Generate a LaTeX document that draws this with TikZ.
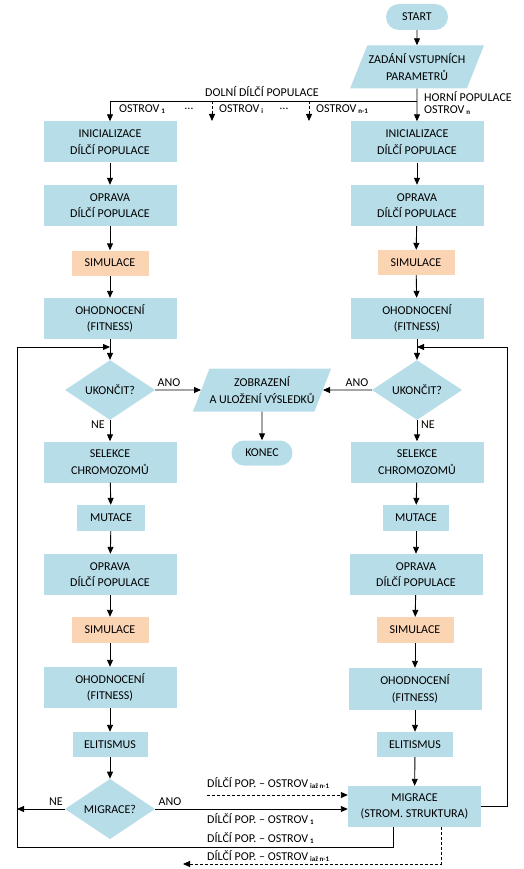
\documentclass[tikz,border=0pt]{standalone}
\usepackage{fontspec}
\setmainfont{Carlito}
\usepackage{tikz}
\usetikzlibrary{arrows.meta, shapes.geometric, shapes.misc}
\definecolor{boxblue}{HTML}{B7DDE8}
\definecolor{boxorange}{HTML}{FBD4B4}
\newcommand{\idx}[1]{\,\raisebox{-1.5pt}{\fontsize{7}{7}\selectfont\bfseries #1}}

\begin{document}
\begin{tikzpicture}[x=1pt, y=-1pt,
  every node/.style={font=\fontsize{12}{16.5}\selectfont},
  proc/.style={rectangle, fill=boxblue, align=center, inner sep=0pt,
               minimum width=133pt, minimum height=41pt},
  smallproc/.style={proc, minimum width=#1, minimum height=26pt},
  sim/.style={proc, fill=boxorange, minimum width=77pt, minimum height=25pt},
  term/.style={rounded rectangle, fill=boxblue, inner sep=0pt,
               minimum width=62pt, minimum height=26pt},
  io/.style={trapezium, trapezium left angle=58, trapezium right angle=122,
             trapezium stretches=true, fill=boxblue, align=center, inner sep=0pt,
             minimum width=134pt, minimum height=43pt},
  decision/.style={diamond, fill=boxblue, inner sep=0pt,
                   minimum width=90pt, minimum height=54pt},
  txt/.style={inner sep=0pt},
  lbl/.style={txt, anchor=west}]
\useasboundingbox (0,0) rectangle (523,869);

\begin{scope}
    % start and input
    \node[term] (START) at (417,17) {START};
    \node[io] (INPUT) at (417,67) {ZADÁNÍ VSTUPNÍCH\\PARAMETRŮ};

    % left island
    \node[proc] (INL) at (110,142) {INICIALIZACE\\DÍLČÍ POPULACE};
    \node[proc] (OPL1) at (110,205.5) {OPRAVA\\DÍLČÍ POPULACE};
    \node[sim] (SIML1) at (110,263) {SIMULACE};
    \node[proc] (OHL1) at (110,318.5) {OHODNOCENÍ\\(FITNESS)};
    \node[decision] (UKL) at (110,390) {UKONČIT?};
    \node[proc] (SELL) at (110,462) {SELEKCE\\CHROMOZOMŮ};
    \node[smallproc=68pt] (MUTL) at (111,518) {MUTACE};
    \node[proc] (OPL2) at (110,574.5) {OPRAVA\\DÍLČÍ POPULACE};
    \node[sim, minimum height=26pt] (SIML2) at (110,630) {SIMULACE};
    \node[proc] (OHL2) at (110,687.5) {OHODNOCENÍ\\(FITNESS)};
    \node[smallproc=75pt, minimum height=25pt] (ELL) at (110,744.5) {ELITISMUS};
    \node[decision] (MIGL) at (110,809) {MIGRACE?};

    % right island
    \node[proc] (INR) at (417,142) {INICIALIZACE\\DÍLČÍ POPULACE};
    \node[proc] (OPR1) at (417,205.5) {OPRAVA\\DÍLČÍ POPULACE};
    \node[sim] (SIMR1) at (416,262.5) {SIMULACE};
    \node[proc] (OHR1) at (417,318.5) {OHODNOCENÍ\\(FITNESS)};
    \node[decision] (UKR) at (417,390) {UKONČIT?};
    \node[proc] (SELR) at (417,462) {SELEKCE\\CHROMOZOMŮ};
    \node[smallproc=66pt] (MUTR) at (416,518) {MUTACE};
    \node[proc] (OPR2) at (416,574.5) {OPRAVA\\DÍLČÍ POPULACE};
    \node[sim, minimum height=26pt] (SIMR2) at (415,630) {SIMULACE};
    \node[proc, minimum height=42pt] (OHR2) at (415,689) {OHODNOCENÍ\\(FITNESS)};
    \node[smallproc=76pt, minimum height=25pt] (ELR) at (415,744.5) {ELITISMUS};
    \node[proc] (MIGR) at (414.5,806.5) {MIGRACE\\(STROM. STRUKTURA)};

    % results
    \node[io, minimum width=135pt] (OUT) at (262,390) {ZOBRAZENÍ\\A ULOŽENÍ VÝSLEDKŮ};
    \node[term, minimum width=61pt, minimum height=25pt] (END) at (262,453) {KONEC};

    % labels
    \node[txt] (LDOLNI) at (262,92) {DOLNÍ DÍLČÍ POPULACE};
    \node[lbl] (LO1) at (119,109) {OSTROV\idx{1}};
    \node[txt] (LDOT1) at (189,109) {…};
    \node[lbl] (LOI) at (219,109) {OSTROV\idx{i}};
    \node[txt] (LDOT2) at (284,109) {…};
    \node[lbl] (LON1) at (316,109) {OSTROV\idx{n-1}};
    \node[lbl] (LHORNI) at (424,97) {HORNÍ POPULACE};
    \node[lbl] (LON) at (424,110) {OSTROV\idx{n}};
    \node[txt] (LANOL) at (169,383) {ANO};
    \node[txt] (LANOR) at (357,383) {ANO};
    \node[txt] (LNEL) at (98,425) {NE};
    \node[txt] (LNER) at (428,425) {NE};
    \node[txt] (LANOM) at (170,802) {ANO};
    \node[txt] (LNEM) at (56,802) {NE};
    \node[lbl] (LM1) at (207,783) {DÍLČÍ POP. – OSTROV\idx{iaž n-1}};
    \node[lbl] (LM2) at (207,819) {DÍLČÍ POP. – OSTROV\idx{1}};
    \node[lbl] (LM3) at (207,838) {DÍLČÍ POP. – OSTROV\idx{1}};
    \node[lbl] (LM4) at (207,856) {DÍLČÍ POP. – OSTROV\idx{iaž n-1}};

    % helper points
    \coordinate (SPLIT) at (417,101);
    \coordinate (DI) at (212,101);
    \coordinate (DIE) at (212,121);
    \coordinate (DN) at (309,101);
    \coordinate (DNE) at (309,121);
    \coordinate (JOINL) at (110,347);
    \coordinate (JOINR) at (417,347);
    \coordinate (LOOPL) at (17,847);
    \coordinate (LOOPR) at (507,347);
    \coordinate (DASHIN) at (207,795);
    \coordinate (DASHOUT) at (183,864);
\end{scope}

\begin{scope}[>={Triangle[length=7pt,width=6pt]}, line width=0.9pt,
              every edge/.style={draw=black,line width=0.9pt}]
    \path [->] (START) edge (INPUT);
    \path [->] (INPUT) edge (INR);
    \draw [->] (SPLIT) -| (INL);
    \draw [->, dash pattern=on 3pt off 2pt] (DI) -- (DIE);
    \draw [->, dash pattern=on 3pt off 2pt] (DN) -- (DNE);

    \path [->] (INL) edge (OPL1);
    \path [->] (OPL1) edge (SIML1);
    \path [->] (SIML1) edge (OHL1);
    \path [->] (OHL1) edge (UKL);
    \path [->] (UKL) edge (SELL);
    \path [->] (SELL) edge (MUTL);
    \path [->] (MUTL) edge (OPL2);
    \path [->] (OPL2) edge (SIML2);
    \path [->] (SIML2) edge (OHL2);
    \path [->] (OHL2) edge (ELL);
    \path [->] (ELL) edge (MIGL);

    \path [->] (INR) edge (OPR1);
    \path [->] (OPR1) edge (SIMR1);
    \path [->] (SIMR1) edge (OHR1);
    \path [->] (OHR1) edge (UKR);
    \path [->] (UKR) edge (SELR);
    \path [->] (SELR) edge (MUTR);
    \path [->] (MUTR) edge (OPR2);
    \path [->] (OPR2) edge (SIMR2);
    \path [->] (SIMR2) edge (OHR2);
    \path [->] (OHR2) edge (ELR);
    \path [->] (ELR) edge (MIGR);

    \path [->] (UKL) edge (OUT);
    \path [->] (UKR) edge (OUT);
    \path [->] (OUT) edge (END);

    \draw [->] (MIGL.east) -- (MIGL.east -| MIGR.west);
    \draw [->] (MIGL.west) -- (MIGL.west -| LOOPL);
    \draw [->, dash pattern=on 3pt off 2pt] (DASHIN) -- (DASHIN -| MIGR.west);
    \draw [->] ([xshift=-21.5pt]MIGR.south) |- (LOOPL) |- (JOINL);
    \draw [->] (MIGR.east) -| (LOOPR) -- (JOINR);
    \draw [->, dash pattern=on 3pt off 2pt] ([xshift=26.5pt]MIGR.south) |- (DASHOUT);
\end{scope}
\end{tikzpicture}
\end{document}
